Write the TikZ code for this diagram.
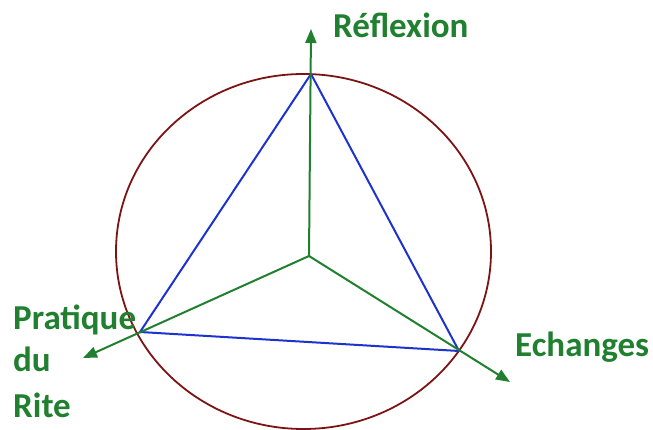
\documentclass[tikz,border=0pt]{standalone}
\usepackage{fontspec}
\setmainfont{Carlito}
\usetikzlibrary{arrows.meta}
\definecolor{axgreen}{RGB}{32,128,48}
\definecolor{trblue}{RGB}{30,50,205}
\definecolor{cirred}{RGB}{125,20,20}
\begin{document}
\begin{tikzpicture}[x=1pt,y=1pt,
  axis/.style={draw=axgreen, line width=2pt, -{Triangle[length=14pt,width=11pt]}},
  tri/.style={draw=trblue, line width=2pt, line join=round},
  lbl/.style={anchor=base west, inner sep=0pt, text=axgreen, font=\fontsize{35}{40}\selectfont\bfseries}]
\useasboundingbox (0,0) rectangle (653,430);
\draw[cirred, line width=1.8pt] (303.5,178.5) ellipse [x radius=187.5, y radius=177.5];
\coordinate (O) at (309,174);
\coordinate (A) at (311,356);
\coordinate (B) at (140,98);
\coordinate (C) at (459,79);
\coordinate (TA) at (311,401);
\coordinate (TB) at (83,72);
\coordinate (TC) at (510,48);
\draw[tri] (A) -- (B) -- (C) -- cycle;
\draw[axis] (O) -- (TA);
\draw[axis] (O) -- (TB);
\draw[axis] (O) -- (TC);
\node[lbl] (r) at (333,392) {Réflexion};
\node[lbl] (p1) at (13,100) {Pratique};
\node[lbl] (p2) at (13,58) {du};
\node[lbl] (p3) at (13,12) {Rite};
\node[lbl] (e) at (515,73) {Echanges};
\end{tikzpicture}
\end{document}
